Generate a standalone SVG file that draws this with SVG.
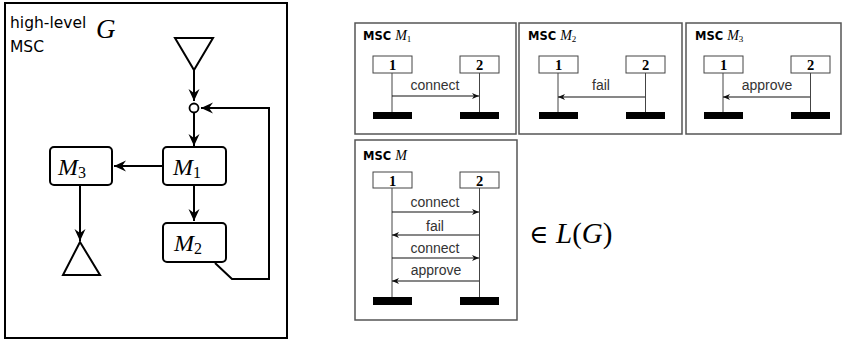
<svg xmlns="http://www.w3.org/2000/svg" width="845" height="342" viewBox="0 0 845 342">
  <style>
    .frame { fill: #fff; stroke: #000; stroke-width: 2; }
    .node { fill: #fff; stroke: #000; stroke-width: 2; }
    .edge { fill: none; stroke: #000; stroke-width: 2; }
    .sans { font-family: "DejaVu Sans", "Liberation Sans", sans-serif; }
    .mi { font-family: "Liberation Serif", "DejaVu Serif", serif; font-style: italic; }
    .rm { font-family: "Liberation Serif", "DejaVu Serif", serif; }
    .panel { fill: #fff; stroke: #555; stroke-width: 1.5; }
    .title { font-family: "DejaVu Sans", "Liberation Sans", sans-serif; font-weight: bold; font-size: 11.5px; fill: #000; }
    .inst { fill: #fff; stroke: #444; stroke-width: 1; }
    .num { font-family: "Liberation Serif", "DejaVu Serif", serif; font-weight: bold; font-size: 14.5px; text-anchor: middle; }
    .life { stroke: #444; stroke-width: 1; }
    .msg { stroke: #111; stroke-width: 1.2; fill: none; }
    .lbl { font-family: "Liberation Sans", "Arial", sans-serif; font-size: 14px; fill: #333; text-anchor: middle; }
    .end { fill: #000; }
  </style>
  <defs>
    <marker id="big" viewBox="-13 -6 14 12" refX="0" refY="0" markerWidth="14" markerHeight="12" markerUnits="userSpaceOnUse" orient="auto">
      <path d="M0,0 L-12,-5.5 L-8,0 L-12,5.5 Z" fill="#000"/>
    </marker>
    <marker id="small" viewBox="-8 -4 9 8" refX="0" refY="0" markerWidth="9" markerHeight="8" markerUnits="userSpaceOnUse" orient="auto">
      <path d="M0,0 L-7,-3 L-5,0 L-7,3 Z" fill="#111"/>
    </marker>
  </defs>

  <!-- high-level MSC G -->
  <rect class="frame" x="5" y="3" width="282" height="335"/>
  <text class="sans" x="10" y="28" font-size="15.5">high-level</text>
  <text class="sans" x="10" y="52" font-size="15.5">MSC</text>
  <text class="mi" x="96" y="38" font-size="27">G</text>

  <g id="connectors">
    <path class="edge" d="M194,70 V101" marker-end="url(#big)"/>
    <path class="edge" d="M194,113 V146" marker-end="url(#big)"/>
    <path class="edge" d="M163,166 H114" marker-end="url(#big)"/>
    <path class="edge" d="M194,185 V221" marker-end="url(#big)"/>
    <path class="edge" d="M80,185 V241" marker-end="url(#big)"/>
    <path class="edge" d="M215,263 L232,279 H269 V108 H201" marker-end="url(#big)"/>
  </g>

  <g id="start">
    <polygon class="node" points="175,38 213,38 194,70"/>
  </g>
  <g id="junction">
    <circle cx="194" cy="108" r="4.5" fill="#fff" stroke="#000" stroke-width="1.8"/>
  </g>
  <g id="node-M1">
    <rect class="node" x="163" y="147" width="63" height="38" rx="4"/>
    <text class="mi" x="173" y="175" font-size="24">M<tspan class="rm" font-style="normal" font-size="16" dy="3">1</tspan></text>
  </g>
  <g id="node-M2">
    <rect class="node" x="163" y="223" width="63" height="39" rx="4"/>
    <text class="mi" x="174" y="251" font-size="24">M<tspan class="rm" font-style="normal" font-size="16" dy="3">2</tspan></text>
  </g>
  <g id="node-M3">
    <rect class="node" x="50" y="147" width="62" height="38" rx="4"/>
    <text class="mi" x="58" y="175" font-size="24">M<tspan class="rm" font-style="normal" font-size="16" dy="3">3</tspan></text>
  </g>
  <g id="end">
    <polygon class="node" points="80,242 63,275 100,275"/>
  </g>

  <!-- MSC M1 -->
  <g id="msc-M1">
    <rect class="panel" x="355" y="23" width="161" height="111"/>
    <text class="title" x="363" y="40">MSC <tspan class="mi" font-weight="normal" font-size="14">M</tspan><tspan class="rm" font-weight="normal" font-size="9" dy="2">1</tspan></text>
    <line class="life" x1="392" y1="73" x2="392" y2="113"/>
    <line class="life" x1="479.5" y1="73" x2="479.5" y2="113"/>
    <rect class="inst" x="373" y="56" width="39" height="17"/>
    <rect class="inst" x="460" y="56" width="39" height="17"/>
    <text class="num" x="392.5" y="69.5">1</text>
    <text class="num" x="479.5" y="69.5">2</text>
    <path class="msg" d="M392,96 H479" marker-end="url(#small)"/>
    <text class="lbl" x="435" y="90">connect</text>
    <rect class="end" x="373" y="112" width="39" height="7"/>
    <rect class="end" x="460" y="112" width="39" height="7"/>
  </g>

  <!-- MSC M2 -->
  <g id="msc-M2">
    <rect class="panel" x="519" y="23" width="163" height="111"/>
    <g transform="translate(166,0)">
      <text class="title" x="362" y="40">MSC <tspan class="mi" font-weight="normal" font-size="14">M</tspan><tspan class="rm" font-weight="normal" font-size="9" dy="2">2</tspan></text>
      <line class="life" x1="392" y1="73" x2="392" y2="113"/>
      <line class="life" x1="479.5" y1="73" x2="479.5" y2="113"/>
      <rect class="inst" x="373" y="56" width="39" height="17"/>
      <rect class="inst" x="460" y="56" width="39" height="17"/>
      <text class="num" x="392.5" y="69.5">1</text>
      <text class="num" x="479.5" y="69.5">2</text>
      <path class="msg" d="M479,97 H392" marker-end="url(#small)"/>
      <text class="lbl" x="435" y="90">fail</text>
      <rect class="end" x="373" y="112" width="39" height="7"/>
      <rect class="end" x="460" y="112" width="39" height="7"/>
    </g>
  </g>

  <!-- MSC M3 -->
  <g id="msc-M3">
    <rect class="panel" x="686" y="23" width="155" height="111"/>
    <g transform="translate(331,0)">
      <text class="title" x="364" y="40">MSC <tspan class="mi" font-weight="normal" font-size="14">M</tspan><tspan class="rm" font-weight="normal" font-size="9" dy="2">3</tspan></text>
      <line class="life" x1="392" y1="73" x2="392" y2="113"/>
      <line class="life" x1="479.5" y1="73" x2="479.5" y2="113"/>
      <rect class="inst" x="373" y="56" width="39" height="17"/>
      <rect class="inst" x="460" y="56" width="39" height="17"/>
      <text class="num" x="392.5" y="69.5">1</text>
      <text class="num" x="479.5" y="69.5">2</text>
      <path class="msg" d="M479,97 H392" marker-end="url(#small)"/>
      <text class="lbl" x="436" y="90">approve</text>
      <rect class="end" x="373" y="112" width="39" height="7"/>
      <rect class="end" x="460" y="112" width="39" height="7"/>
    </g>
  </g>

  <!-- MSC M -->
  <g id="msc-M">
    <rect class="panel" x="355" y="140" width="162" height="180"/>
    <text class="title" x="363" y="160">MSC <tspan class="mi" font-weight="normal" font-size="14">M</tspan></text>
    <line class="life" x1="392" y1="188" x2="392" y2="298"/>
    <line class="life" x1="479.5" y1="188" x2="479.5" y2="298"/>
    <rect class="inst" x="373" y="172" width="39" height="16"/>
    <rect class="inst" x="460" y="172" width="39" height="16"/>
    <text class="num" x="392.5" y="185.5">1</text>
    <text class="num" x="479.5" y="185.5">2</text>
    <path class="msg" d="M392,212 H479" marker-end="url(#small)"/>
    <text class="lbl" x="435" y="207">connect</text>
    <path class="msg" d="M479,235 H392" marker-end="url(#small)"/>
    <text class="lbl" x="435" y="231">fail</text>
    <path class="msg" d="M392,258 H479" marker-end="url(#small)"/>
    <text class="lbl" x="435" y="253">connect</text>
    <path class="msg" d="M479,281 H392" marker-end="url(#small)"/>
    <text class="lbl" x="436" y="275">approve</text>
    <rect class="end" x="373" y="297" width="39" height="8"/>
    <rect class="end" x="460" y="297" width="39" height="8"/>
  </g>

  <!-- membership -->
  <text x="529" y="243" font-size="29" class="rm"><tspan font-family="DejaVu Serif, serif" font-size="26">∈</tspan><tspan x="556" class="mi">L</tspan><tspan>(</tspan><tspan class="mi">G</tspan><tspan>)</tspan></text>
</svg>
